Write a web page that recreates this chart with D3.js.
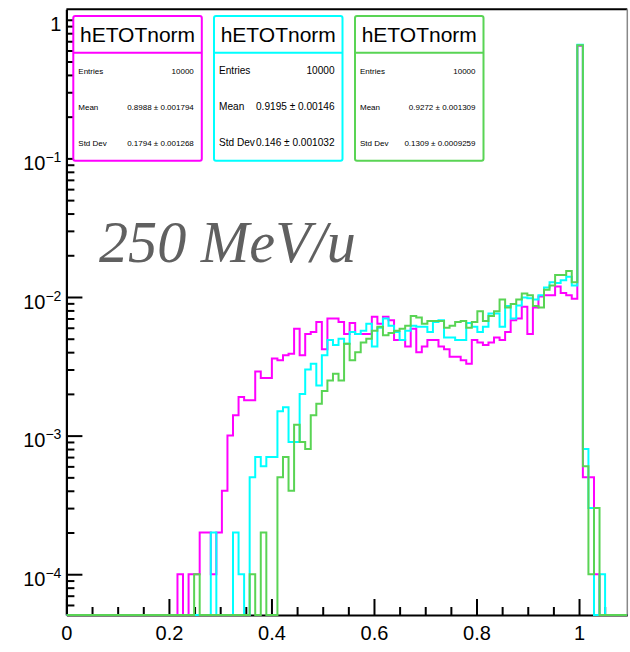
<!DOCTYPE html>
<html><head><meta charset="utf-8">
<script src="https://cdn.jsdelivr.net/npm/d3@7"></script>
<style>body{margin:0;background:#fff}svg{display:block}</style>
</head><body>
<svg id="c" width="630" height="652"></svg>
<script>
// ---------------- data ----------------
const entries = 10000;
const nBins = 120, xLow = 0, xHigh = 1.3;   // histogram binning
const shownBins = 101;                      // axis range shown (0 .. 101 bins)
const firstBin = 20;                        // counts arrays start at this bin
const magentaCounts = [1,0,1,1,2,2,1,2,4,10, 14,19,18,18,29,26,26,36,35,38,
  39,59,38,54,56,66,42,70,70,66, 54,65,54,54,54,72,64,72,68,49,
  49,44,59,40,44,49,49,44,42,37, 37,35,33,49,47,45,47,51,49,56,
  68,70,85,54,84,101,103,103,119,107, 103,97,6500,5,5,1,0];
const cyanCounts = [0,0,0,0,0,0,2,0,0,0, 2,1,0,5,7,6,7,7,15,16,
  9,9,20,30,33,23,38,49,45,50, 46,56,54,57,64,44,60,70,62,56,
  49,57,62,61,61,56,66,68,51,51, 49,49,65,61,56,61,76,76,61,86,
  70,87,99,98,96,103,117,128,126,132, 140,121,6600,8,3,0,1];
const greenCounts = [0,0,0,1,0,0,0,0,0,0, 0,0,0,1,0,2,0,0,5,7,
  4,12,9,8,14,17,21,25,28,25, 46,35,40,47,50,57,61,53,55,57,
  59,62,73,71,64,67,67,67,60,62, 66,67,60,66,79,67,73,79,96,84,
  89,96,106,103,86,84,113,121,144,144, 154,128,6550,6,1,3,0];
const seriesNames = ["magenta","cyan","green"];
const xTicks = [0, 0.2, 0.4, 0.6, 0.8, 1];
const xTickLabels = ["0","0.2","0.4","0.6","0.8","1"];
const yTicks = [1e-4, 1e-3, 1e-2, 1e-1, 1];
const yTickBase = ["10","10","10","10","1"];
const yTickExp = ["\u22124","\u22123","\u22122","\u22121",""];
const yMin = 5.08e-5, yMax = 1.19;
const statTitles = ["hETOTnorm","hETOTnorm","hETOTnorm"];
const statEntries = ["10000","10000","10000"];
const statMeans = ["0.8988 \u00b1 0.001794","0.9195 \u00b1 0.00146","0.9272 \u00b1 0.001309"];
const statStd = ["0.1794 \u00b1 0.001268","0.146 \u00b1 0.001032","0.1309 \u00b1 0.0009259"];
const statLabels = ["Entries","Mean","Std Dev"];
const annotation = "250 MeV/u";

// ---------------- style / layout ----------------
const colors = {magenta:"#ff00ff", cyan:"#00ffff", green:"#59d454"};
const FONT = "'Liberation Sans', Arial, Helvetica, sans-serif";
const frame = {l:66.4, r:627.3, t:9.3, b:615};
const svg = d3.select("#c");
const binW = (xHigh - xLow) / nBins;

const x = d3.scaleLinear().domain([xLow, xLow + shownBins*binW]).range([frame.l, frame.r]);
const y = d3.scaleLog().domain([yMin, yMax]).range([frame.b, frame.t]);

// frame top/right
svg.append("line").attr("x1",frame.l).attr("x2",frame.r).attr("y1",frame.t).attr("y2",frame.t)
  .attr("stroke","#000").attr("stroke-width",2);
svg.append("line").attr("x1",frame.r).attr("x2",frame.r).attr("y1",frame.t).attr("y2",frame.b)
  .attr("stroke","#888").attr("stroke-width",1.5);

// x axis minor
const xMinor = d3.range(0, 22).map(i => i*0.05).filter(v => v <= x.domain()[1] && Math.abs(v*5 - Math.round(v*5))>1e-6);
svg.append("g").attr("transform",`translate(0,${frame.b})`)
  .call(d3.axisBottom(x).tickValues(xMinor).tickSizeInner(-8).tickSizeOuter(0).tickFormat(""))
  .call(g => { g.select(".domain").remove(); g.selectAll("line").attr("stroke","#000").attr("stroke-width",2); });
// x axis major
svg.append("g").attr("transform",`translate(0,${frame.b})`)
  .call(d3.axisBottom(x).tickValues(xTicks).tickSizeInner(-16).tickSizeOuter(0).tickPadding(11)
        .tickFormat((d,i)=>xTickLabels[i]))
  .call(g => {
    g.select(".domain").attr("stroke","#000").attr("stroke-width",2.2);
    g.selectAll("line").attr("stroke","#000").attr("stroke-width",2);
    g.selectAll("text").attr("font-family",FONT).attr("font-size",20).attr("fill","#000");
  });

// y axis minor
const yMinor = [];
for (let d=-5; d<=0; d++) for (let k=2;k<=9;k++){ const v=k*Math.pow(10,d); if(v>=yMin && v<=yMax) yMinor.push(v); }
svg.append("g").attr("transform",`translate(${frame.l},0)`)
  .call(d3.axisLeft(y).tickValues(yMinor).tickSizeInner(-8).tickSizeOuter(0).tickFormat(""))
  .call(g => { g.select(".domain").remove(); g.selectAll("line").attr("stroke","#000").attr("stroke-width",2); });
// y axis major
svg.append("g").attr("transform",`translate(${frame.l},0)`)
  .call(d3.axisLeft(y).tickValues(yTicks).tickSizeInner(-16).tickSizeOuter(0).tickPadding(5).tickFormat(""))
  .call(g => {
    g.select(".domain").attr("stroke","#000").attr("stroke-width",2.2);
    g.selectAll("line").attr("stroke","#000").attr("stroke-width",2);
    g.selectAll(".tick").each(function(d,i){
      const t = d3.select(this).select("text").attr("font-family",FONT).attr("font-size",20)
        .attr("fill","#000").attr("dy",null).attr("y",11);
      t.text(null);
      t.append("tspan").text(yTickBase[i]);
      if (yTickExp[i]) t.append("tspan").attr("font-size",14).attr("dy",-8).text(yTickExp[i]);
    });
  });

// histograms
svg.append("clipPath").attr("id","fr").append("rect")
  .attr("x",frame.l).attr("y",frame.t).attr("width",frame.r-frame.l).attr("height",frame.b-frame.t+1.5);
const hg = svg.append("g").attr("clip-path","url(#fr)");
const allCounts = {magenta:magentaCounts, cyan:cyanCounts, green:greenCounts};
const yv = c => c > 0 ? y(c/entries) : frame.b;
const line = d3.line().x(d=>d[0]).y(d=>d[1]);
seriesNames.forEach(name => {
  const counts = allCounts[name];
  const pts = [];
  for (let i=0;i<shownBins;i++){
    const j = i - firstBin;
    const c = (j>=0 && j<counts.length) ? counts[j] : 0;
    const x0 = x(xLow + i*binW), x1 = x(xLow + (i+1)*binW);
    pts.push([x0, yv(c)], [x1, yv(c)]);
  }
  hg.append("path").attr("d", line(pts)).attr("fill","none")
    .attr("stroke", colors[name]).attr("stroke-width",2).attr("stroke-linejoin","miter");
});

// stat boxes
const boxL = [73.3, 214, 355], boxW = 128.5, boxT = 16, boxB = 160.7, sepY = 52.7;
const statFont = [8, 10.1, 8];
seriesNames.forEach((name,i) => {
  const g = svg.append("g");
  const L = boxL[i], R = L + boxW;
  g.append("rect").attr("x",L).attr("y",boxT).attr("width",boxW).attr("height",boxB-boxT)
    .attr("rx",2).attr("fill","#fff").attr("stroke",colors[name]).attr("stroke-width",2);
  g.append("line").attr("x1",L).attr("x2",R).attr("y1",sepY).attr("y2",sepY)
    .attr("stroke",colors[name]).attr("stroke-width",2);
  g.append("text").attr("x",(L+R)/2).attr("y",41.5).attr("text-anchor","middle")
    .attr("font-family",FONT).attr("font-size",21).attr("fill","#000").text(statTitles[i]);
  const vals = [statEntries[i], statMeans[i], statStd[i]];
  const rowH = (boxB - sepY)/3;
  statLabels.forEach((lab,r) => {
    const by = sepY + rowH*(r+0.5) + 0.35*statFont[i];
    g.append("text").attr("x",L+5).attr("y",by).attr("font-family",FONT)
      .attr("font-size",statFont[i]).attr("fill","#000").text(lab);
    g.append("text").attr("x",R-8).attr("y",by).attr("text-anchor","end").attr("font-family",FONT)
      .attr("font-size",statFont[i]).attr("fill","#000").text(vals[r]);
  });
});

// annotation
const ann = svg.append("text").attr("x",99).attr("y",262)
  .attr("font-family","'Liberation Serif','DejaVu Serif',serif").attr("font-style","italic")
  .attr("font-size",56).attr("fill","#606060").text(annotation);
const wantW = 257, gotW = ann.node().getComputedTextLength();
if (gotW > 0) ann.attr("font-size", 56*wantW/gotW);
</script>
</body></html>
